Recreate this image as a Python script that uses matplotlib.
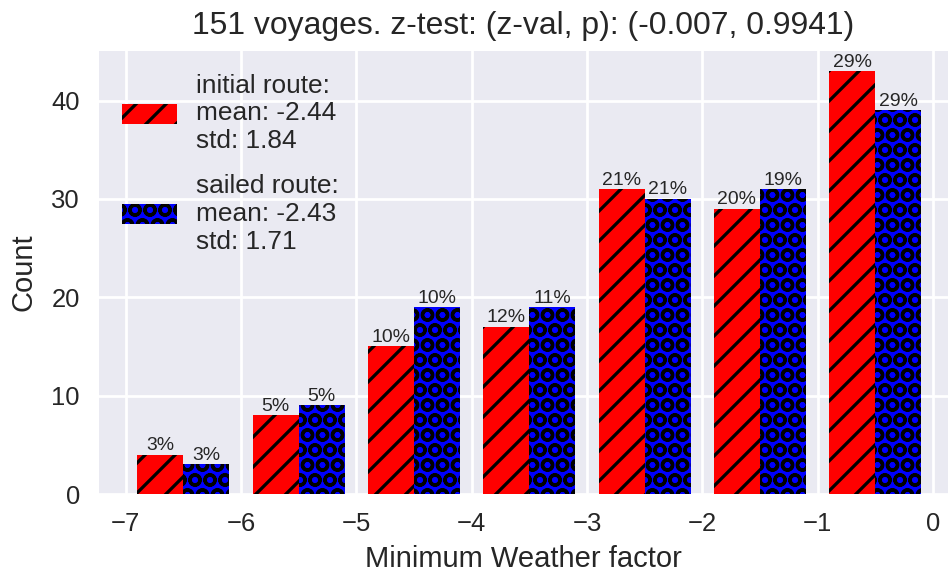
import numpy as np
import matplotlib
matplotlib.use("Agg")
import matplotlib.pyplot as plt
import seaborn as sns

# bin edges of the weather factor and counts per bin
edges = [-7, -6, -5, -4, -3, -2, -1, 0]
initial_counts = [4, 8, 15, 17, 31, 29, 43]
sailed_counts = [3, 9, 19, 19, 30, 31, 39]
initial_pct = [3, 5, 10, 12, 21, 20, 29]
sailed_pct = [3, 5, 10, 11, 21, 19, 29]

initial_label = "initial route:\nmean: -2.44\nstd: 1.84"
sailed_label = "sailed route:\nmean: -2.43\nstd: 1.71"
title = "151 voyages. z-test: (z-val, p): (-0.007, 0.9941)"

sns.set_style("darkgrid")
plt.rcParams['font.family'] = ['Liberation Sans', 'DejaVu Sans']
plt.rcParams['hatch.linewidth'] = 2.6
plt.rcParams['grid.linewidth'] = 2.2

dpi = 90
fig, ax = plt.subplots(figsize=(949 / dpi, 576 / dpi), dpi=dpi)
fig.subplots_adjust(left=98 / 949, right=948 / 949, top=1 - 50 / 576, bottom=1 - 494 / 576)

centers = [(a + b) / 2 for a, b in zip(edges[:-1], edges[1:])]
n, bins, containers = ax.hist([centers, centers], bins=edges,
                              weights=[initial_counts, sailed_counts],
                              color=['red', 'blue'], edgecolor='black', linewidth=0,
                              label=[initial_label, sailed_label])

for cont, hatch, pcts in zip(containers, ['/', 'O'], [initial_pct, sailed_pct]):
    for bar, p in zip(cont, pcts):
        bar.set_hatch(hatch)
        ax.annotate(f"{p}%", (bar.get_x() + bar.get_width() / 2, bar.get_height()),
                    xytext=(0, 0.5), textcoords='offset points',
                    ha='center', va='bottom', fontsize=15.5, color='.15')

ax.set_xlim(-7.24, 0.13)
ax.set_ylim(0, 45.15)
ax.set_yticks([0, 10, 20, 30, 40])
ax.tick_params(labelsize=20.5, colors='.15', pad=11)
ax.set_xlabel("Minimum Weather factor", fontsize=23.3, color='.15', labelpad=7)
ax.set_ylabel("Count", fontsize=23.3, color='.15', labelpad=11)
ax.set_title(title, fontsize=25.5, color='.15', pad=13)
ax.legend(loc='upper left', fontsize=21, frameon=False, labelspacing=0.8,
          handlelength=2.1, handleheight=0.8, handletextpad=0.75)

plt.savefig('out.png', dpi=dpi)
